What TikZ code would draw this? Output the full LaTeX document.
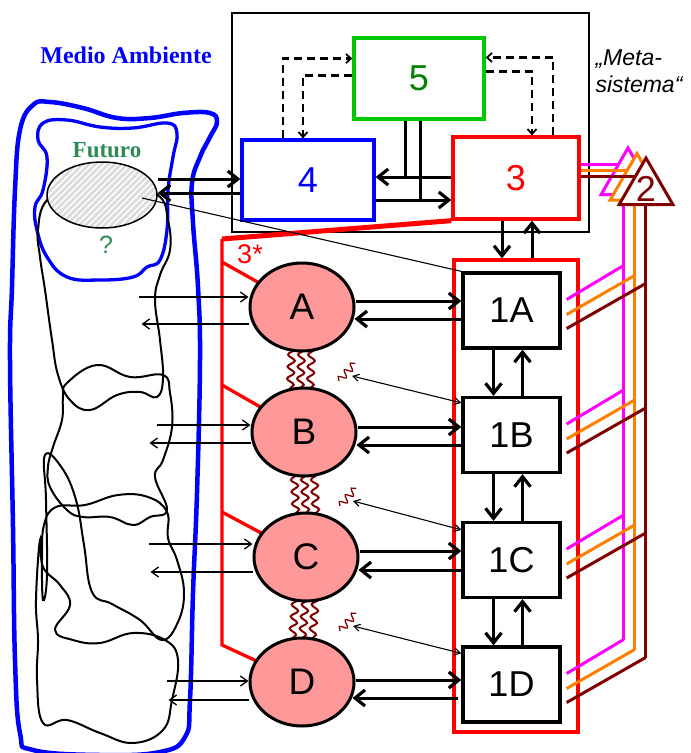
\documentclass[tikz,border=0pt]{standalone}
\usepackage{fontspec}
\setmainfont{Liberation Sans}
\newfontfamily\titlefont{Liberation Serif}
\usetikzlibrary{arrows.meta,shapes.geometric,positioning,calc,decorations.pathmorphing,patterns.meta}

\definecolor{vsmblue}{RGB}{0,0,255}
\definecolor{vsmgreen}{RGB}{0,200,0}
\definecolor{darkgreen}{RGB}{0,128,0}
\definecolor{futgreen}{RGB}{46,139,87}
\definecolor{vsmbrown}{RGB}{128,0,0}
\definecolor{vsmorange}{RGB}{255,128,0}
\definecolor{vsmmagenta}{RGB}{255,0,255}
\definecolor{unitpink}{RGB}{255,153,153}

\begin{document}
\begin{tikzpicture}[x=1pt, y=-1pt,
    sys/.style={draw, line width=3.3pt, fill=white, font=\fontsize{36}{40}\selectfont},
    op/.style={draw, line width=3.3pt, fill=white, minimum width=97pt, minimum height=75pt, font=\fontsize{36}{40}\selectfont},
    unit/.style={ellipse, draw, line width=3pt, fill=unitpink, minimum width=104pt, minimum height=88pt, inner sep=0pt, font=\fontsize{37}{40}\selectfont},
    tri/.style={regular polygon, regular polygon sides=3, minimum size=62pt, inner sep=0pt, fill=white, line width=3pt},
    arr/.style={-{Straight Barb[length=10pt,width=16pt,line width=3.2pt]}, line width=3pt},
    bar/.style={line width=3pt},
    darr/.style={-{Straight Barb[length=5pt,width=9pt,line width=1.8pt]}, line width=2.5pt, dash pattern=on 8pt off 5pt},
    envarr/.style={-{Straight Barb[length=7pt,width=10pt,line width=1.3pt]}, line width=2.3pt},
    tarr/.style={{Straight Barb[length=6pt,width=7pt]}-{Straight Barb[length=6pt,width=7pt]}, line width=1.1pt},
    wave/.style={draw=vsmbrown, line width=2pt, decorate, decoration={snake, amplitude=3.5pt, segment length=12pt}},
    sq/.style={draw=vsmbrown, line width=1.3pt, decorate, decoration={snake, amplitude=3.5pt, segment length=9pt}},
    redbar/.style={draw=red, line width=3.3pt},
    envline/.style={draw, line width=2pt},
    mline/.style={draw=vsmmagenta, line width=3pt},
    oline/.style={draw=vsmorange, line width=3pt},
    bline/.style={draw=vsmbrown, line width=3pt}
]
\useasboundingbox (0,0) rectangle (691,753);

% environment
\draw[vsmblue, line width=4.5pt] plot[smooth cycle, tension=0.7] coordinates {(12,287) (15,190) (20,130) (33,105) (50,102) (83,108) (117,118) (150,118) (183,113) (210,113) (217,122) (210,137) (200,157) (192,183) (193,223) (198,287) (200,360) (197,493) (193,593) (190,700) (185,737) (160,752) (100,755) (33,750) (20,733) (15,660) (13,527) (10,360)};
\draw[vsmblue, line width=3.3pt] plot[smooth cycle, tension=0.7] coordinates {(38,140) (43,123) (67,120) (100,127) (133,128) (167,123) (177,133) (173,157) (168,190) (167,230) (160,260) (147,267) (133,277) (100,280) (67,277) (47,257) (37,230) (35,207) (43,190) (47,157)};
\draw[envline] plot[smooth cycle, tension=0.7] coordinates {(47,200) (38,230) (40,257) (45,290) (52,340) (58,375) (70,400) (90,410) (117,395) (140,392) (157,397) (163,378) (160,340) (155,300) (160,275) (170,250) (168,220) (158,195) (120,180) (80,180)};
\draw[envline] plot[smooth cycle, tension=0.7] coordinates {(63,397) (67,383) (97,365) (130,377) (163,375) (170,393) (172,427) (163,460) (155,477) (167,510) (150,517) (133,525) (110,517) (83,517) (67,510) (50,487) (48,467) (53,447) (62,420)};
\draw[envline] plot[smooth cycle, tension=0.7] coordinates {(45,455) (62,468) (76,500) (84,545) (92,592) (112,604) (140,620) (162,640) (178,622) (184,592) (177,560) (168,538) (167,512) (148,497) (118,495) (85,505) (56,507) (44,525) (42,560) (43,600) (47,575) (46,500)};
\draw[envline] plot[smooth cycle, tension=0.7] coordinates {(37,680) (43,723) (67,720) (100,733) (133,743) (163,730) (172,700) (178,660) (165,640) (133,633) (100,643) (73,640) (55,630) (70,605) (60,585) (43,567) (40,540) (36,600) (38,640)};

\node[ellipse, draw, line width=1.5pt, minimum width=110pt, minimum height=66pt, preaction={fill=black!14}, pattern={Lines[angle=45,distance=4.5pt,line width=1.6pt]}, pattern color=white] (fut) at (102,195) {};
\node[text=futgreen, font=\titlefont\bfseries\fontsize{23}{26}\selectfont] (futlbl) at (107,150) {Futuro};
\node[text=futgreen, font=\fontsize{25}{28}\selectfont] (qmark) at (106,245) {?};
\node[text=vsmblue, font=\titlefont\bfseries\fontsize{24}{28}\selectfont] (envlbl) at (126,55) {Medio Ambiente};

% metasystem
\node[draw, line width=1.6pt, minimum width=357pt, minimum height=219pt] (meta) at (410.5,122.5) {};
\node[font=\itshape\fontsize{23}{27}\selectfont, align=left, anchor=west] (metalbl) at (592,71) {„Meta-\\sistema“};
\node[sys, draw=vsmgreen, text=darkgreen, minimum width=130pt, minimum height=81pt] (f5) at (419,78.5) {5};
\node[sys, draw=vsmblue, text=vsmblue, minimum width=132pt, minimum height=80pt] (f4) at (308,180) {4};
\node[sys, draw=red, text=red, minimum width=126pt, minimum height=82pt] (f3) at (516,178) {3};

\draw[darr] ([xshift=-25pt]f4.north) |- ([yshift=20pt]f5.west);
\draw[darr] ([yshift=3pt]f5.west) -| ([xshift=-5pt]f4.north);
\draw[darr] ([xshift=37pt]f3.north) |- ([yshift=21pt]f5.east);
\draw[darr] ([yshift=7pt]f5.east) -| ([xshift=16pt]f3.north);

\coordinate (in4) at ([yshift=1pt]f3.west);
\coordinate (in3) at ([yshift=-20pt]f4.east);
\draw[arr] (in4) -- (in4 -| f4.east);
\draw[arr] (in3) -- (in3 -| f3.west);
\draw[bar] ([xshift=-14pt]f5.south) -- ([xshift=-14pt]f5.south |- in4);
\draw[bar] ([xshift=1pt]f5.south) -- ([xshift=1pt]f5.south |- in3);

\coordinate (fin) at ([yshift=1pt]f4.west);
\coordinate (fout) at ([yshift=-13pt]f4.west);
\draw[arr] (fin -| fut.east) -- (fin);
\draw[arr] (fout) -- (fout -| fut.east);

% operations
\node[draw=red, line width=3.3pt, minimum width=124pt, minimum height=472pt] (ops) at (516,496) {};
\draw[arr] ([xshift=-14pt]f3.south) -- ([xshift=-14pt]f3.south |- ops.north);
\draw[arr] ([xshift=16pt]f3.south |- ops.north) -- ([xshift=16pt]f3.south);

% 3* channel
\coordinate (rtop) at (222,239);
\coordinate (rbot) at (222,645);
\coordinate (ra) at (222,262);
\coordinate (rb) at (222,385);
\coordinate (rc) at (222,512);
\node[text=red, font=\fontsize{27}{30}\selectfont] (star) at (250,254) {3*};

\draw[redbar, line width=5pt] (rtop) -- (f3.south west);
\draw[redbar] (rtop) -- (rbot) -- (302,682);
\draw[redbar] (ra) -- (302,307);
\draw[redbar] (rb) -- (304,432);
\draw[redbar] (rc) -- (306,557);

\draw[wave] (292,345) -- (290,392);
\draw[wave] (302,345) -- (300,392);
\draw[wave] (312,345) -- (310,392);
\draw[wave] (294,470) -- (296,517);
\draw[wave] (304,470) -- (306,517);
\draw[wave] (314,470) -- (316,517);
\draw[wave] (296,595) -- (292,642);
\draw[wave] (306,595) -- (302,642);
\draw[wave] (316,595) -- (312,642);

\node[unit] (uA) at (302,307) {A};
\node[unit] (uB) at (304,432) {B};
\node[unit] (uC) at (306,557) {C};
\node[unit] (uD) at (302,682) {D};

\node[op] (opA) at (511.5,310.5) {1A};
\node[op] (opB) at (511.5,435) {1B};
\node[op] (opC) at (511.5,560) {1C};
\node[op] (opD) at (511.5,684.5) {1D};

\draw[arr] ([xshift=-18pt]opA.south) -- ([xshift=-18pt]opB.north);
\draw[arr] ([xshift=11pt]opB.north) -- ([xshift=11pt]opA.south);
\draw[arr] ([xshift=-18pt]opB.south) -- ([xshift=-18pt]opC.north);
\draw[arr] ([xshift=11pt]opC.north) -- ([xshift=11pt]opB.south);
\draw[arr] ([xshift=-18pt]opC.south) -- ([xshift=-18pt]opD.north);
\draw[arr] ([xshift=11pt]opD.north) -- ([xshift=11pt]opC.south);

% units <-> operations
\draw[arr] ([yshift=6pt]uA.east) -- ([yshift=6pt]uA.east -| opA.west);
\draw[arr] ([yshift=-12pt]uA.east -| opA.west) -- ([xshift=-1pt,yshift=-12pt]uA.east);
\draw[arr] ([yshift=5pt]uB.east) -- ([yshift=5pt]uB.east -| opB.west);
\draw[arr] ([yshift=-13pt]uB.east -| opB.west) -- ([xshift=-1pt,yshift=-13pt]uB.east);
\draw[arr] ([yshift=6pt]uC.east) -- ([yshift=6pt]uC.east -| opC.west);
\draw[arr] ([yshift=-13pt]uC.east -| opC.west) -- ([xshift=-1pt,yshift=-13pt]uC.east);
\draw[arr] ([yshift=2pt]uD.east) -- ([yshift=2pt]uD.east -| opD.west);
\draw[arr] ([xshift=-3pt,yshift=-16pt]uD.east -| opD.west) -- ([xshift=-3pt,yshift=-16pt]uD.east);

% environment <-> units
\draw[envarr] ([yshift=10pt]uA.west) ++(-110,0) -- ([yshift=10pt]uA.west);
\draw[envarr] ([yshift=-17pt]uA.west) -- ++(-107,0);
\draw[envarr] ([yshift=7pt]uB.west) ++(-94,0) -- ([yshift=7pt]uB.west);
\draw[envarr] ([yshift=-11pt]uB.west) -- ++(-101,0);
\draw[envarr] ([yshift=13pt]uC.west) ++(-104,0) -- ([yshift=13pt]uC.west);
\draw[envarr] ([yshift=-15pt]uC.west) -- ++(-102,0);
\draw[envarr] ([yshift=1pt]uD.west) ++(-82,0) -- ([yshift=1pt]uD.west);
\draw[envarr] ([yshift=-18pt]uD.west) -- ++(-80,0);

% monitoring
\draw[line width=1.1pt] ([xshift=40pt,yshift=-3pt]fut.center) -- (opA.north west);
\coordinate (s1) at (352,376);
\coordinate (s2) at (353,501);
\coordinate (s3) at (353,626);
\draw[sq] ($(s1)+(-13,5)$) -- ($(s1)+(3,-13)$);
\draw[sq] ($(s2)+(-13,5)$) -- ($(s2)+(3,-13)$);
\draw[sq] ($(s3)+(-13,5)$) -- ($(s3)+(3,-13)$);
\draw[tarr] ([yshift=-7pt]opB.north west) -- (s1);
\draw[tarr] ([yshift=-9pt]opC.north west) -- (s2);
\draw[tarr] ([yshift=-8pt]opD.north west) -- (s3);

% coordination (2)
\coordinate (busM) at (623,640);
\coordinate (busO) at (634,650);
\coordinate (busB) at (645,658);
\draw[mline] ([yshift=14pt]f3.east) -| (busM);
\node[tri, draw=vsmmagenta] (tM) at (628,179) {};
\draw[oline] ([yshift=8pt]f3.east) -| (busO);
\node[tri, draw=vsmorange] (tO) at (637,184.5) {};
\draw[bline] ([yshift=2pt]f3.east) -| (busB);
\node[tri, draw=vsmbrown, label={[text=vsmbrown, font=\fontsize{36}{40}\selectfont]center:2}] (tB) at (646,189) {};

\foreach \b in {opA,opB,opC,opD} {
  \draw[mline] ([xshift=5pt,yshift=11pt]\b.east) -- ++(57,-34);
  \draw[oline] ([xshift=5pt,yshift=-4pt]\b.east) -- ++(68,-39);
  \draw[bline] ([xshift=5pt,yshift=-18pt]\b.east) -- ++(79,-45);
}
\end{tikzpicture}
\end{document}
